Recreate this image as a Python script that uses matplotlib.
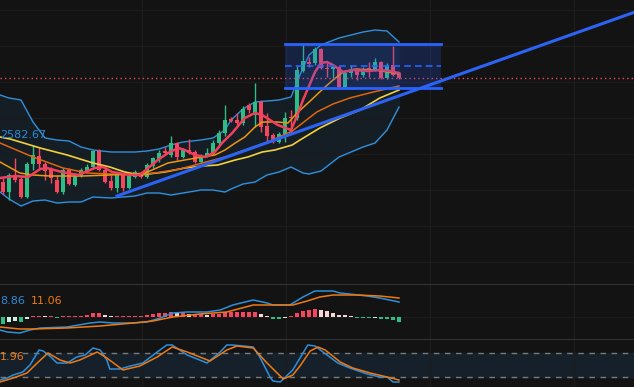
import numpy as np
import matplotlib.pyplot as plt

# candles (67 bars)
opens = [2609, 2604, 2612.5, 2610.5, 2601.5, 2618, 2622, 2618, 2615, 2610,
         2604, 2615, 2607.5, 2612, 2614.5, 2616.5, 2624.5, 2615, 2609.5, 2606,
         2613, 2606, 2611.5, 2613.5, 2611.5, 2617, 2620.5, 2624.5, 2622.5, 2628.5,
         2621.5, 2625, 2624, 2619, 2621.5, 2623, 2628.5, 2633.5, 2640.5, 2640,
         2638.5, 2647.5, 2642.5, 2649, 2637, 2632.5, 2629, 2633, 2641.5, 2641,
         2664.5, 2669, 2668.5, 2675.5, 2666, 2665.5, 2666.5, 2656.5, 2663.5, 2664.5,
         2662.5, 2666, 2665.5, 2669, 2661, 2667.5, 2663.5]
closes = [2604, 2612.5, 2610, 2601.5, 2618, 2622.5, 2618, 2614.5, 2611, 2604,
          2615, 2608, 2612.5, 2615, 2616.5, 2624.5, 2615, 2609, 2606, 2613,
          2606, 2612, 2614, 2611.5, 2617.5, 2621, 2623.5, 2623.5, 2628.5, 2621.5,
          2625, 2623.5, 2619, 2622, 2623.5, 2628.5, 2633.5, 2640, 2639.5, 2638.5,
          2645.5, 2645, 2649, 2636.5, 2632, 2629, 2633, 2641, 2641, 2665,
          2669.5, 2668, 2675.5, 2666, 2665.5, 2666.5, 2656.5, 2663.5, 2664.5, 2662.5,
          2665.5, 2665.5, 2669, 2661, 2667.5, 2662.5, 2661]
highs = [2611, 2613.5, 2621, 2612.5, 2619, 2627.5, 2626, 2619, 2616.5, 2612.5,
         2616, 2616, 2613.5, 2616, 2618, 2625, 2625.5, 2616, 2612.5, 2614,
         2613.5, 2612.5, 2615, 2614, 2618.5, 2621.5, 2625, 2626.5, 2632, 2629,
         2626, 2630.5, 2625, 2623, 2626, 2630, 2635, 2647.5, 2641.5, 2643.5,
         2647, 2648.5, 2658.5, 2650, 2643.5, 2633.5, 2634, 2644, 2645, 2667,
         2678, 2671.5, 2676.5, 2676, 2668.5, 2668, 2667, 2665, 2667.5, 2666,
         2666.5, 2669, 2671, 2669.5, 2668.5, 2677, 2664]
lows = [2603, 2600, 2609, 2601, 2601, 2615, 2616, 2610, 2608.5, 2603.5,
        2603, 2607.5, 2607, 2611.5, 2614, 2616, 2614.5, 2608.5, 2605, 2604,
        2604.5, 2605.5, 2611, 2611, 2611, 2616, 2619, 2622.5, 2621.5, 2620,
        2621, 2623, 2618.5, 2618, 2621.5, 2622.5, 2627.5, 2632, 2639, 2637.5,
        2637.5, 2643.5, 2636.5, 2634, 2628.5, 2628.5, 2628.5, 2629, 2633.5, 2640,
        2664, 2666.5, 2667.5, 2665.5, 2661.5, 2661, 2656, 2656, 2661.5, 2660,
        2661.5, 2661.5, 2664.5, 2660.5, 2660.5, 2662, 2660.5]

# moving averages, read at sample bars
ma5_x = [-0.5, 2, 4.2, 6.2, 7.3, 9.8, 12.5, 15.3, 16.7, 18.2, 21.2, 22.8, 24.2, 25.8,
         27.5, 29.2, 30.3, 32, 33.7, 35.3, 36.5, 38.2, 40.3, 42, 43.2, 45.8, 48, 49,
         50, 51, 52, 53, 54, 55, 56.7, 58.3, 60.7, 62.8, 64.5, 66]
ma5_y = [2611, 2612, 2611.5, 2615.5, 2616, 2614, 2612.5, 2616, 2616.5, 2614, 2612.5,
         2612.5, 2616, 2620, 2623.5, 2626, 2625, 2622.5, 2621.5, 2624, 2628.5, 2633.5,
         2641, 2643.5, 2642.5, 2637.5, 2635, 2642, 2650, 2657, 2664, 2668.5, 2669,
         2667.5, 2664, 2665, 2664.5, 2665, 2664.5, 2663.5]
ma10_x = [-0.5, 2.8, 5, 7.8, 13.3, 17.8, 21.7, 23.7, 27.5, 30.3, 33.2, 35.3, 37, 38.7,
          40.3, 42, 43.2, 45.8, 47.5, 49, 51.2, 53.3, 55, 56.7, 58.7, 62, 66]
ma10_y = [2619, 2613.5, 2612.5, 2612, 2612, 2612.5, 2613, 2613.5, 2618.5, 2620, 2621.5,
          2622.5, 2625, 2628.5, 2631.5, 2636.5, 2639, 2639, 2638.5, 2643.5, 2649.5,
          2655.5, 2660, 2664, 2665.5, 2665, 2663]
ma20_x = [-0.5, 5, 10, 14, 17.8, 21.7, 25.3, 29.5, 33.2, 37, 40.3, 44.2, 48.2, 49.5,
          52.3, 55, 57.8, 61.7, 66]
ma20_y = [2628.5, 2621.5, 2616, 2613.5, 2613, 2612.5, 2613.5, 2615.5, 2618.5, 2621.5,
          2625, 2629, 2634.5, 2637.5, 2644, 2648, 2651, 2654, 2657]
ma30_x = [-0.5, 1.2, 6.2, 10.7, 15, 17.8, 20.3, 22.8, 27, 30.3, 33.2, 35.8, 38.7, 40.8,
          43.2, 45.3, 48.2, 49.5, 52.8, 56.2, 59.5, 62.8, 66]
ma30_y = [2631.5, 2630.5, 2626, 2622.5, 2618.5, 2616.5, 2614, 2612.5, 2614, 2616, 2617,
          2617.5, 2620, 2621.5, 2624, 2625, 2627.5, 2630, 2636, 2641, 2645, 2651, 2655]

# bollinger bands
boll_x = [-0.5, 1, 3, 5, 7, 9, 11, 13, 15, 18, 22, 24, 26, 28, 30, 33, 35, 37, 38, 40,
          42, 44, 46, 48, 49, 50, 51, 53, 56, 58, 60, 62, 64, 66]
boll_up = [2652.5, 2651, 2650, 2639, 2631, 2630, 2629.5, 2626.5, 2625, 2624, 2624,
           2624.5, 2625.5, 2627.5, 2629, 2630, 2631, 2635, 2640, 2645.5, 2649, 2649.5,
           2650, 2651.5, 2659, 2666, 2672.5, 2677.5, 2681, 2682.5, 2684, 2685, 2684.5, 2679]
boll_dn = [2604, 2600.5, 2597, 2599.5, 2600, 2598.5, 2599, 2599, 2601.5, 2601, 2602,
           2603.5, 2603.5, 2602.5, 2603.5, 2605, 2605, 2604, 2605.5, 2608, 2609, 2612.5,
           2614, 2616.5, 2615, 2613.5, 2613, 2614.5, 2621.5, 2624, 2626.5, 2628.5, 2635, 2646.5]

# drawings
trend_x = [19, 106]
trend_y = [2602, 2694.7]
box_x = [47, 73]
box_top, box_mid, box_bot = 2678, 2667, 2656

# MACD
macd_hist = [-4.2, -3, -2.4, -3, -1.2, 0.6, 0.9, 0.6, 0.6, -0.3,
             0.6, 0.6, 0.6, 0.9, 1.2, 2.4, 2.4, 1.2, 0.6, 0.6,
             0.6, 0.6, 0.9, 0.9, 1.2, 1.8, 2.4, 2.4, 3.0, 2.4,
             2.4, 1.8, 1.8, 1.8, 1.2, 1.8, 2.1, 3.0, 3.0, 3.0,
             3.0, 3.0, 3.3, 1.8, 0.6, -1.2, -1.2, -0.6, 0.6, 2.7,
             3.9, 4.2, 4.8, 4.2, 3.6, 2.4, 1.4, 1.0, 0.4, -0.8,
             -0.8, -0.8, -0.6, -1.2, -1.2, -2.0, -2.7]
dif_x = [-0.5, 0.7, 2.8, 4.5, 6.2, 10.7, 14.5, 16.2, 18.3, 21.7, 24, 26.2, 28.3, 30.7,
         34, 36.2, 38.3, 41.7, 44, 45, 47.8, 50, 52, 55, 56.2, 60.7, 62.8, 66]
dif_y = [-7.8, -9, -9.6, -7.8, -6.6, -6, -3.6, -3, -3.6, -3.6, -3, -0.6, 2.4, 3, 3,
         4.2, 7.2, 10.2, 8.4, 7.2, 7.2, 12, 15.6, 15.6, 14.4, 12.6, 11.4, 9]
dea_x = [-0.5, 2.8, 5, 10.7, 16.2, 21.7, 25, 28.3, 32.8, 37.3, 41.7, 45.7, 48.3, 50.7,
         52.8, 55, 59, 62.8, 66]
dea_y = [-6, -7.2, -7.2, -6.6, -5.4, -3.6, -2.4, 0, 1.8, 3, 7.2, 7.2, 7.2, 9.6, 12,
         13.2, 13.2, 12.6, 11.4]

# KDJ
k_x = [-0.5, 0.7, 1.7, 3.3, 4.5, 6, 6.7, 7.8, 9, 10.7, 12.3, 13.7, 15, 16.2, 17.3, 17.8,
       19.5, 21.2, 23.3, 25.7, 27.3, 28.2, 30.7, 34, 36.2, 37.3, 38.3, 41.7, 42.8, 44.5,
       45, 46.2, 48.3, 49.5, 50.8, 52, 54, 55.8, 57.8, 60.7, 62.8, 64, 65, 66]
k_y = [12.5, 17.5, 25, 32.5, 50, 87.5, 85, 72.5, 55, 55, 70, 75, 92.5, 87.5, 62.5, 40,
       40, 47.5, 55, 82.5, 100, 100, 75, 55, 82.5, 100, 100, 95, 70, 20,
       10, 7.5, 37.5, 67.5, 100, 97.5, 75, 55, 42.5, 27.5, 20, 20, 7.5, 7.5]
d_x = [-0.5, 1.7, 4, 5.7, 7.5, 9.5, 11.2, 12.8, 15.7, 17.3, 20, 22.8, 25.7, 28.2, 30.7,
       34.5, 37.3, 39, 41.7, 44, 46.7, 48.3, 49.5, 51.2, 52.5, 53.7, 56.2, 58.3, 61.2, 64, 66]
d_y = [7.5, 17.5, 30, 55, 80, 62.5, 55, 62.5, 82.5, 67.5, 37.5, 47.5, 70, 95, 82.5,
       60, 87.5, 97.5, 92.5, 55, 15, 25, 47.5, 85, 95, 87.5, 57.5, 42.5, 30, 20, 12.5]

bg = '#131313'
green = '#2dbd85'
red = '#f6465d'
W, H = 634, 387

fig = plt.figure(figsize=(W / 100, H / 100), dpi=100, facecolor=bg)


def panel(top, bottom):
    a = fig.add_axes([0, 1 - bottom / H, 1, (bottom - top) / H])
    a.set_facecolor(bg)
    a.set_xlim(-0.5, (W - 3) / 6)
    for s in a.spines.values():
        s.set_visible(False)
    a.tick_params(length=0, labelleft=False, labelbottom=False)
    a.set_xticks([23.17, 47.17, 71.17, 95.17])
    return a


ax = panel(0, 284)
axm = panel(284, 339)
axk = panel(339, 387)

# main panel
ax.set_ylim(2558, 2700)
ax.set_yticks([2695, 2677, 2659, 2641, 2623, 2605, 2587, 2569])
ax.grid(color='#1c1c1c', lw=1)

ax.fill_between(boll_x, boll_dn, boll_up, color='#151d25', zorder=1)
ax.plot(boll_x, boll_up, color='#2f8fdb', lw=1, zorder=2)
ax.plot(boll_x, boll_dn, color='#2f8fdb', lw=1, zorder=2)

idx = np.arange(len(opens))
o = np.array(opens)
c = np.array(closes)
col = np.where(c >= o, green, red)
ax.vlines(idx, lows, highs, colors=col, lw=1, zorder=3)
ax.bar(idx, np.maximum(np.abs(c - o), 0.5), bottom=np.minimum(o, c), width=0.82,
       color=col, linewidth=0, zorder=3)

ax.plot(ma30_x, ma30_y, color='#f3d03e', lw=1.2, zorder=4)
ax.plot(ma20_x, ma20_y, color='#e0650f', lw=1.1, zorder=4)
ax.plot(ma10_x, ma10_y, color='#f0960f', lw=1.1, zorder=4)
ax.plot(ma5_x, ma5_y, color='#f23f5d', lw=1.8, zorder=5)

ax.axhline(closes[-1], color='#f0485f', lw=1, ls=(0, (1, 2.2)), zorder=6)

ax.fill_between(box_x, box_bot, box_top, color='#2962ff', alpha=0.2, lw=0, zorder=6)
ax.plot(box_x, [box_top] * 2, color='#2962ff', lw=2, zorder=7)
ax.plot(box_x, [box_bot] * 2, color='#2962ff', lw=2, zorder=7)
ax.plot(box_x, [box_mid] * 2, color='#2962ff', lw=1.2, ls=(0, (4, 2.5)), zorder=7)
ax.plot(trend_x, trend_y, color='#2c63f5', lw=2.2, zorder=8)

# MACD panel
axm.set_ylim(-13.2, 19.8)
axm.set_yticks([0])
axm.grid(color='#1c1c1c', lw=1)
axm.spines['top'].set_visible(True)
axm.spines['top'].set_color('#333333')
h = np.array(macd_hist)
prev = np.concatenate([[h[0]], h[:-1]])
hcol = np.where(h >= 0, np.where(h >= prev, red, '#f7d6da'),
                np.where(h <= prev, green, '#cdeee0'))
axm.bar(idx, h, width=0.82, color=hcol, linewidth=0, zorder=2)
axm.plot(dif_x, dif_y, color='#2f8fdb', lw=1.1, zorder=3)
axm.plot(dea_x, dea_y, color='#f07a12', lw=1.1, zorder=3)

# KDJ panel
axk.set_ylim(-5, 115)
axk.set_yticks([])
axk.grid(axis='x', color='#1c1c1c', lw=1)
axk.spines['top'].set_visible(True)
axk.spines['top'].set_color('#333333')
axk.axhspan(20, 80, color='#16202a', zorder=0)
axk.axhline(80, color='#7a7a7a', lw=1, ls=(0, (4, 4)), zorder=1)
axk.axhline(20, color='#7a7a7a', lw=1, ls=(0, (4, 4)), zorder=1)
axk.plot(k_x, k_y, color='#2f8fdb', lw=1.1, zorder=3)
axk.plot(d_x, d_y, color='#f07a12', lw=1.1, zorder=3)

# cut-off legend values
fig.text(0, 1 - 134.5 / H, '2582.67', color='#2d8ad8', fontsize=8, va='center', ha='left')
fig.text(0, 1 - 301.5 / H, '8.86', color='#2d8ad8', fontsize=8, va='center', ha='left')
fig.text(31 / W, 1 - 301.5 / H, '11.06', color='#f07a12', fontsize=8, va='center', ha='left')
fig.text(0, 1 - 357 / H, '1.96', color='#f07a12', fontsize=8, va='center', ha='left')

fig.savefig('out.png', dpi=100, facecolor=bg)
